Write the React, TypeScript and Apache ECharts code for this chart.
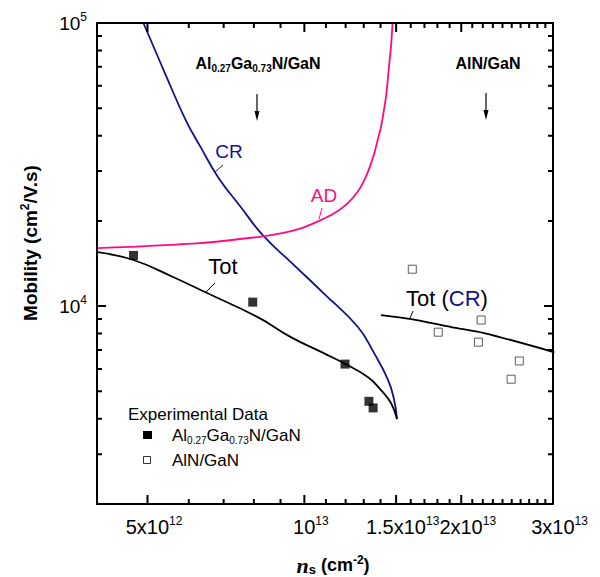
import React, { useEffect, useRef } from 'react';
import * as echarts from 'echarts';

const FONT = '"Liberation Sans", Arial, sans-serif';
const NAVY = '#12128a';
const PINK = '#ff0a80';

// Theory curves: n_s (cm^-2) and mobility (cm^2/V.s)
const crN = [4.91e12, 5.42e12, 5.92e12, 6.32e12, 6.85e12, 7.55e12, 8.32e12, 9.42e12, 1.089e13, 1.267e13, 1.361e13, 1.448e13, 1.487e13, 1.506e13];
const crMu = [100000, 65500, 45400, 36500, 28300, 22400, 17800, 14300, 11100, 8440, 6820, 5480, 4660, 3990];

const adN = [4.01e12, 6.32e12, 8.14e12, 9.01e12, 9.845e12, 1.0757e13, 1.1411e13, 1.2106e13, 1.2654e13, 1.3032e13, 1.3323e13,
  1.3621e13, 1.3826e13, 1.4031e13, 1.4198e13, 1.4343e13, 1.4454e13, 1.4555e13, 1.4665e13, 1.4776e13];
const adMu = [16030, 16700, 17540, 18070, 18820, 20130, 21270, 23070, 25340, 27870, 30660,
  34640, 38600, 43010, 48600, 54900, 62900, 72050, 82480, 102500];

const totN = [4.01e12, 4.70e12, 5.61e12, 6.52e12, 8.14e12, 9.42e12, 1.089e13, 1.19e13, 1.325e13, 1.403e13, 1.467e13, 1.506e13];
const totMu = [15500, 14550, 12650, 11100, 9140, 7770, 6820, 6290, 5610, 5050, 4540, 3990];

const totCrN = [1.403e13, 1.603e13, 1.914e13, 2.213e13, 3.02e13];
const totCrMu = [9290, 8990, 8430, 8030, 6870];

// Experimental data
const algaN = [4.70e12, 7.96e12, 1.197e13, 1.330e13, 1.355e13];
const algaMu = [15100, 10330, 6240, 4610, 4370];
const alnN = [1.611e13, 1.807e13, 2.184e13, 2.158e13, 2.585e13, 2.493e13];
const alnMu = [13500, 8090, 8930, 7460, 6400, 5520];

// Axes
const xRange = [4e12, 3e13];
const yRange = [2000, 1e5];
const xMajor = [5e12, 1e13, 1.5e13, 2e13, 3e13];
const xMajorMant = ['5x10', '10', '1.5x10', '2x10', '3x10'];
const xMajorExp = ['12', '13', '13', '13', '13'];
const xMinor = [6e12, 7e12, 8e12, 9e12, 1.1e13, 1.2e13, 1.3e13, 1.4e13, 1.6e13, 1.7e13, 1.8e13, 1.9e13,
  2.1e13, 2.2e13, 2.3e13, 2.4e13, 2.5e13, 2.6e13, 2.7e13, 2.8e13, 2.9e13];
const yMajor = [1e4, 1e5];
const yMajorBase = ['10', '10'];
const yMajorExp = ['4', '5'];
const yMinor = [3000, 4000, 5000, 6000, 7000, 8000, 9000, 2e4, 3e4, 4e4, 5e4, 6e4, 7e4, 8e4, 9e4];

const L = (v: number) => Math.log(v) / Math.LN10;
const pts = (n: number[], m: number[]) => n.map((v, i) => [L(v), L(m[i])]);
const nearest = (arr: number[], v: number) => {
  let bi = 0, bd = Infinity;
  arr.forEach((a, i) => { const d = Math.abs(L(a) - v); if (d < bd) { bd = d; bi = i; } });
  return bi;
};

const XMIN = L(xRange[0]), XMAX = L(xRange[1]), YMIN = L(yRange[0]), YMAX = L(yRange[1]);
const GRID = { left: 97, top: 23, width: 456, height: 481 };

const txt = (x: number, y: number, text: string, size: number, color: string, extra: any = {}) => ({
  type: 'text', x, y, silent: true,
  style: { text, fill: color, fontSize: size, fontFamily: FONT, align: 'center', verticalAlign: 'middle', ...extra },
});
const seg = (x1: number, y1: number, x2: number, y2: number, color: string, w = 1.2) => ({
  type: 'line', silent: true, shape: { x1, y1, x2, y2 }, style: { stroke: color, lineWidth: w },
});

export default function App() {
  const ref = useRef<HTMLDivElement>(null);
  useEffect(() => {
    if (!ref.current) return;
    const chart = echarts.init(ref.current, undefined, { renderer: 'svg' });
    const lineSeries = (name: string, data: number[][], color: string, smooth: number) => ({
      name, type: 'line', data, showSymbol: false, symbol: 'none', smooth,
      lineStyle: { color, width: 1.8 }, clip: true, z: 3,
    });
    const b = (size: number) => ({ fontSize: size, fontFamily: FONT, fontWeight: 'bold', fill: '#000' });
    const r = (size: number, color = '#000') => ({ fontSize: size, fontFamily: FONT, fill: color });
    const option: any = {
      animation: false,
      backgroundColor: '#fff',
      textStyle: { fontFamily: FONT },
      grid: { ...GRID },
      xAxis: {
        type: 'value', min: XMIN, max: XMAX, position: 'bottom',
        splitLine: { show: false },
        axisLine: { show: true, lineStyle: { color: '#000', width: 2 } },
        axisTick: { show: false },
        axisLabel: {
          show: true, margin: 11,
          customValues: xMajor.map((v) => L(v)),
          formatter: (v: number) => {
            const i = nearest(xMajor, v);
            return `{p| }{m|${xMajorMant[i]}}{s|${xMajorExp[i]}}`;
          },
          rich: {
            p: { width: 13, fontSize: 12, fontFamily: FONT },
            m: { fontSize: 20, fontFamily: FONT, color: '#000', lineHeight: 24 },
            s: { fontSize: 12, fontFamily: FONT, color: '#000', verticalAlign: 'top', lineHeight: 14 },
          },
        },
      },
      yAxis: {
        type: 'value', min: YMIN, max: YMAX, position: 'left',
        splitLine: { show: false },
        axisLine: { show: true, lineStyle: { color: '#000', width: 2 } },
        axisTick: { show: false },
        axisLabel: {
          show: true, margin: 10,
          customValues: yMajor.map((v) => L(v)),
          formatter: (v: number) => {
            const i = nearest(yMajor, v);
            return `{m|${yMajorBase[i]}}{s|${yMajorExp[i]}}`;
          },
          rich: {
            m: { fontSize: 19, fontFamily: FONT, color: '#000', lineHeight: 24 },
            s: { fontSize: 12, fontFamily: FONT, color: '#000', verticalAlign: 'top', lineHeight: 14 },
          },
        },
      },
      series: [
        lineSeries('CR', pts(crN, crMu), NAVY, 0.45),
        lineSeries('AD', pts(adN, adMu), PINK, 0.3),
        lineSeries('Tot', pts(totN, totMu), '#000', 0.45),
        lineSeries('Tot (CR)', pts(totCrN, totCrMu), '#000', 0.3),
        {
          name: 'Al0.27Ga0.73N/GaN', type: 'scatter', data: pts(algaN, algaMu), symbol: 'rect', symbolSize: 9,
          itemStyle: { color: '#000' }, z: 4,
        },
        {
          name: 'AlN/GaN', type: 'scatter', data: pts(alnN, alnMu), symbol: 'rect', symbolSize: 8,
          itemStyle: { color: '#fff', borderColor: '#333', borderWidth: 1 }, z: 4,
        },
      ],
    };
    chart.setOption(option);

    // All frame edges and log ticks as ONE path, positions taken from the axes' scale
    const px = (x: number, y: number): number[] => {
      let p: any = null;
      try { p = chart.convertToPixel({ xAxisIndex: 0, yAxisIndex: 0 } as any, [x, y]); } catch (e) { p = null; }
      if (!p || !isFinite(p[0]) || !isFinite(p[1])) {
        p = [GRID.left + ((x - XMIN) / (XMAX - XMIN)) * GRID.width, GRID.top + ((YMAX - y) / (YMAX - YMIN)) * GRID.height];
      }
      return [p[0], p[1]];
    };
    const f = (n: number) => n.toFixed(2);
    let d = '';
    const tl = px(XMIN, YMAX), tr = px(XMAX, YMAX), br = px(XMAX, YMIN);
    d += `M${f(tl[0])} ${f(tl[1])}L${f(tr[0])} ${f(tr[1])}L${f(br[0])} ${f(br[1])}`;
    const xt = (v: number, len: number) => {
      const pb = px(L(v), YMIN);
      const pt = px(L(v), YMAX);
      d += `M${f(pb[0])} ${f(pb[1])}L${f(pb[0])} ${f(pb[1] - len)}`;
      d += `M${f(pt[0])} ${f(pt[1])}L${f(pt[0])} ${f(pt[1] + len)}`;
    };
    const yt = (v: number, len: number) => {
      const pl = px(XMIN, L(v));
      const pr = px(XMAX, L(v));
      d += `M${f(pl[0])} ${f(pl[1])}L${f(pl[0] + len)} ${f(pl[1])}`;
      d += `M${f(pr[0])} ${f(pr[1])}L${f(pr[0] - len)} ${f(pr[1])}`;
    };
    xMajor.forEach((v) => xt(v, 9));
    xMinor.forEach((v) => xt(v, 5));
    yMajor.forEach((v) => yt(v, 9));
    yMinor.forEach((v) => yt(v, 5));
    echarts.graphic.registerShape('logTicks', echarts.graphic.extendPath(d, {}) as any);

    const graphics: any[] = [
      { type: 'logTicks', x: 0, y: 0, scaleX: 1, scaleY: 1, silent: true, z: 100, style: { stroke: '#000', lineWidth: 2, fill: 'none' } },
      // axis titles
      {
        type: 'text', x: 30, y: 243, rotation: Math.PI / 2, silent: true,
        style: {
          text: '{b|Mobility (cm}{s|2}{b|/V.s)}', align: 'center', verticalAlign: 'middle',
          rich: { b: { ...b(19), lineHeight: 22 }, s: { ...b(12), verticalAlign: 'top', lineHeight: 14 } },
        },
      },
      {
        type: 'text', x: 333, y: 565, silent: true,
        style: {
          text: '{n|n}{sub|s}{b| (cm}{s|-2}{b|)}', align: 'center', verticalAlign: 'middle',
          rich: {
            n: { fontSize: 22, fontFamily: '"Liberation Serif", "Times New Roman", serif', fontWeight: 'bold', fontStyle: 'italic', fill: '#000', lineHeight: 22 },
            sub: { ...b(13), verticalAlign: 'bottom', lineHeight: 12 },
            b: { ...b(18), lineHeight: 22 },
            s: { ...b(12), verticalAlign: 'top', lineHeight: 14 },
          },
        },
      },
      // top annotations
      {
        type: 'text', x: 258, y: 63, silent: true,
        style: {
          text: '{b|Al}{sub|0.27}{b|Ga}{sub|0.73}{b|N/GaN}', align: 'center', verticalAlign: 'middle',
          rich: { b: { ...b(16), lineHeight: 20 }, sub: { ...b(10), verticalAlign: 'bottom', lineHeight: 10 } },
        },
      },
      txt(488, 63, 'AlN/GaN', 16, '#000', { fontWeight: 'bold' }),
      seg(257, 94, 257, 114, '#000', 1.2),
      { type: 'polygon', silent: true, shape: { points: [[254.5, 111], [259.5, 111], [257, 121]] }, style: { fill: '#000' } },
      seg(486, 93, 486, 113, '#000', 1.2),
      { type: 'polygon', silent: true, shape: { points: [[483.5, 110], [488.5, 110], [486, 120]] }, style: { fill: '#000' } },
      // curve labels
      txt(229, 151, 'CR', 19, NAVY),
      seg(215, 172, 223, 165, NAVY, 1),
      txt(324, 195, 'AD', 19, PINK),
      seg(319, 219, 322, 208, PINK, 1),
      txt(223, 266, 'Tot', 22, '#000'),
      seg(206, 292, 215, 283, '#000', 1),
      {
        type: 'text', x: 447, y: 298, silent: true,
        style: {
          text: '{k|Tot (}{c|CR}{k|)}', align: 'center', verticalAlign: 'middle',
          rich: { k: r(22), c: r(22, NAVY) },
        },
      },
      seg(410, 318, 413, 311, '#000', 1),
      // legend
      txt(128, 414, 'Experimental Data', 17, '#000', { align: 'left' }),
      { type: 'rect', silent: true, shape: { x: 143, y: 431, width: 9, height: 8 }, style: { fill: '#000' } },
      {
        type: 'text', x: 172, y: 435, silent: true,
        style: {
          text: '{m|Al}{sub|0.27}{m|Ga}{sub|0.73}{m|N/GaN}', align: 'left', verticalAlign: 'middle',
          rich: { m: { ...r(17), lineHeight: 20 }, sub: { ...r(10), verticalAlign: 'bottom', lineHeight: 10 } },
        },
      },
      { type: 'rect', silent: true, shape: { x: 143.5, y: 456.5, width: 7, height: 7 }, style: { fill: '#fff', stroke: '#333', lineWidth: 1 } },
      txt(172, 460, 'AlN/GaN', 17, '#000', { align: 'left' }),
    ];
    chart.setOption({ graphic: { elements: graphics } });
    return () => chart.dispose();
  }, []);
  return <div ref={ref} style={{ position: 'fixed', left: 0, top: 0, width: 600, height: 577 }} />;
}
